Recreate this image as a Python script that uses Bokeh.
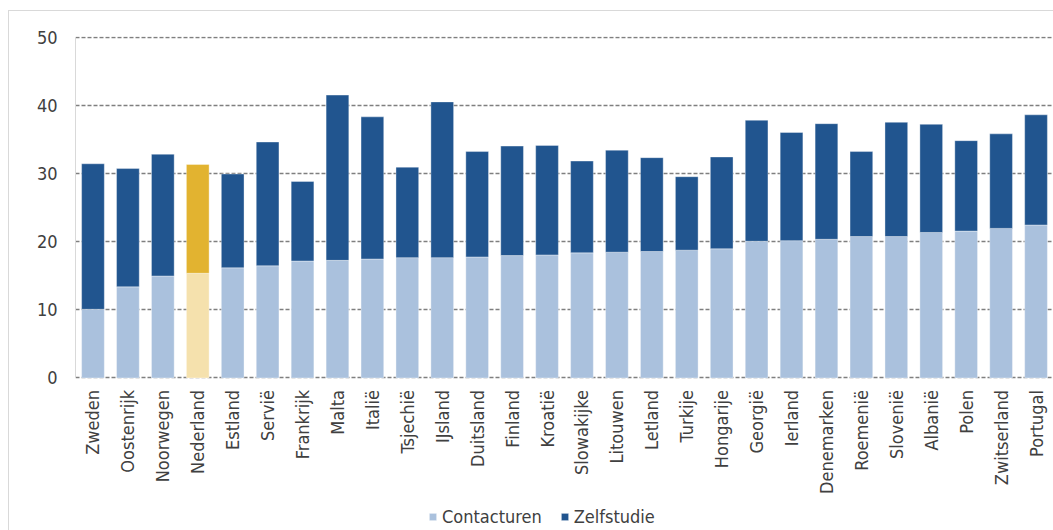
from math import pi
from bokeh.plotting import figure
from bokeh.models import FactorRange, Range1d, Legend, LegendItem, ColumnDataSource, FixedTicker
from bokeh.embed import file_html
from bokeh.resources import INLINE

countries = ["Zweden", "Oostenrijk", "Noorwegen", "Nederland", "Estland", "Servië",
             "Frankrijk", "Malta", "Italië", "Tsjechië", "IJsland", "Duitsland",
             "Finland", "Kroatië", "Slowakijke", "Litouwen", "Letland", "Turkije",
             "Hongarije", "Georgië", "Ierland", "Denemarken", "Roemenië", "Slovenië",
             "Albanië", "Polen", "Zwitserland", "Portugal"]
contacturen = [10.1, 13.4, 15.0, 15.4, 16.2, 16.5, 17.2, 17.3, 17.5, 17.7, 17.7, 17.8,
               18.0, 18.1, 18.4, 18.5, 18.6, 18.8, 19.0, 20.1, 20.2, 20.4, 20.8, 20.8,
               21.4, 21.6, 22.0, 22.5]
zelfstudie = [21.4, 17.4, 17.9, 16.0, 13.8, 18.2, 11.7, 24.3, 20.9, 13.3, 22.9, 15.5,
              16.1, 16.1, 13.5, 15.0, 13.8, 10.8, 13.5, 17.8, 15.9, 17.0, 12.5, 16.8,
              15.9, 13.3, 13.9, 16.2]
highlight = "Nederland"
y_ticks = [0, 10, 20, 30, 40, 50]

LIGHT_BLUE = "#aac1dd"
DARK_BLUE = "#21558f"
LIGHT_GOLD = "#f5e1ad"
DARK_GOLD = "#e2b330"
TEXT = "#404040"
FONT = "DejaVu Sans Condensed"

totaal = [c + z for c, z in zip(contacturen, zelfstudie)]
src = ColumnDataSource(dict(
    country=countries,
    contact=contacturen,
    total=totaal,
    c1=[LIGHT_GOLD if c == highlight else LIGHT_BLUE for c in countries],
    c2=[DARK_GOLD if c == highlight else DARK_BLUE for c in countries],
))

# frame spans the full lower part; x axis is pinned at y=0 inside the frame
p = figure(width=1053, height=530, output_backend="svg", toolbar_location=None,
           x_range=FactorRange(*countries, range_padding=0),
           y_range=Range1d(-22.43, 50.22),
           min_border_left=75, min_border_right=0, min_border_top=36, min_border_bottom=0)
p.outline_line_color = None
p.border_fill_color = None
p.styles = {"background": "linear-gradient(#d9d9d9,#d9d9d9) 8px 10px / 1px 100% no-repeat, "
                          "linear-gradient(#d9d9d9,#d9d9d9) 8px 10px / 100% 1px no-repeat, white"}

r1 = p.vbar(x="country", top="contact", bottom=0, width=0.65, source=src,
            fill_color="c1", line_color="white", line_alpha=0.35, line_width=1)
r2 = p.vbar(x="country", top="total", bottom="contact", width=0.65, source=src,
            fill_color="c2", line_color="white", line_alpha=0.35, line_width=1)

p.xgrid.grid_line_color = None
p.ygrid.grid_line_color = "#7f7f7f"
p.ygrid.grid_line_dash = "4 2"
p.ygrid.grid_line_width = 1.6
p.yaxis.ticker = FixedTicker(ticks=y_ticks)
p.yaxis.bounds = (0, 50)

p.xaxis.fixed_location = 0
p.xaxis.axis_line_color = None
p.xaxis.major_tick_line_color = None
p.xaxis.major_tick_out = 0
p.xaxis.major_tick_in = 0
p.xaxis.major_label_orientation = pi / 2
p.xaxis.major_label_standoff = 12
p.xaxis.major_label_text_font = FONT
p.xaxis.major_label_text_font_size = "18px"
p.xaxis.major_label_text_color = TEXT

p.yaxis.axis_line_color = "#d9d9d9"
p.yaxis.axis_line_width = 1
p.yaxis.major_tick_line_color = None
p.yaxis.minor_tick_line_color = None
p.yaxis.major_tick_out = 0
p.yaxis.major_tick_in = 0
p.yaxis.minor_tick_out = 0
p.yaxis.major_label_standoff = 18
p.yaxis.major_label_text_font = FONT
p.yaxis.major_label_text_font_size = "18px"
p.yaxis.major_label_text_color = TEXT

legend = Legend(items=[LegendItem(label="Contacturen", renderers=[r1], index=0),
                       LegendItem(label="Zelfstudie", renderers=[r2], index=0)],
                orientation="horizontal", location=(353, 3),
                border_line_color=None, background_fill_alpha=0,
                padding=0, margin=0, spacing=18, label_standoff=5,
                glyph_width=9, glyph_height=9,
                label_text_font=FONT, label_text_font_size="18px",
                label_text_color=TEXT)
p.add_layout(legend, "center")

open("out.html", "w").write(file_html(p, INLINE))
